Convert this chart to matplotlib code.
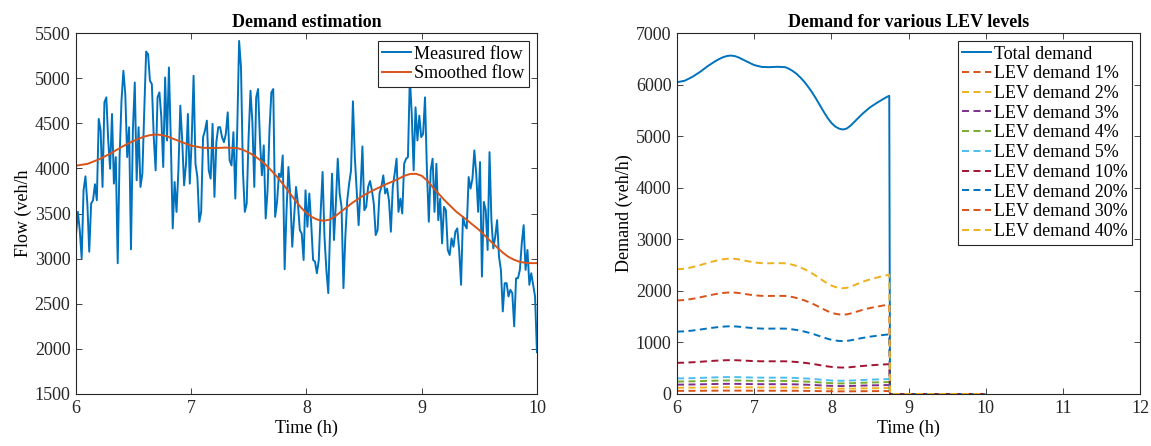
import numpy as np
import matplotlib
matplotlib.use("Agg")
import matplotlib.pyplot as plt

plt.rcParams['font.family'] = ['Liberation Serif', 'DejaVu Serif']
plt.rcParams['font.size'] = 13

# measured flow (veh/h), roughly one sample per minute from 6:00 to 10:00
flow_measured = [
    3261, 3518, 3316, 3004, 3757, 3912, 3610, 3077, 3610, 3647, 3824, 3647, 4548, 4419,
    3794, 4732, 4787, 4309, 3996, 4603, 3831, 4125, 2949, 4125, 4750, 5081, 4824, 4125,
    4456, 3103, 4419, 4952, 3868, 4456, 3794, 3941, 4640, 5294,
    5265, 4971, 4934, 4346, 3978, 4787, 4842, 4566, 4015, 5007, 4309, 5118, 4309, 3335,
    3849, 3518, 3978, 4695, 4309, 3812, 4051, 4603, 3831, 4309, 5026, 4051, 3904, 3408,
    3518, 4346, 4419, 4529, 3978, 3886, 4493, 3684, 4290, 4456, 4456, 4346, 4290,
    4382, 4621, 4088, 4033, 4401, 3665, 4419, 5412, 5118, 3978, 3518, 3610, 4346, 4860,
    4511, 3794, 4787, 4879, 4309, 3923, 4254, 3445, 3757, 4419, 4842, 4879, 3463, 3629,
    3941, 3904, 4143, 2882, 3537, 4015, 3684, 3132, 3463, 3794, 3610, 3316, 3279, 2985,
    3757, 3353, 3721, 3390, 2985, 2967, 2838, 2985, 3518, 3960, 3243, 2875, 2618, 3353,
    3941, 3206, 3610, 4107, 3721, 3574, 2673, 3243, 3647, 3831, 3978, 4743, 4125, 3757,
    3371, 3757, 4243, 3537, 3574, 3794, 3860, 3757, 3610, 3261, 3316, 3721, 3794,
    3923, 3721, 3776, 3647, 3298, 3794, 3941, 4107, 3518, 3665, 3500, 4051, 4107, 4125,
    5007, 4603, 3978, 4676, 4309, 4584, 4346, 4382, 4787, 3978, 3408, 3978, 4107, 3518,
    4051, 3426, 3665, 3169, 3574, 3537, 3096, 3040, 3224, 3132, 3298, 3335, 3096, 2710,
    3463, 3371, 3335, 3904, 3776, 3886, 4199, 3941, 3518, 4070, 2801, 3629, 3537, 3096,
    4180, 3426, 3114, 3243, 3426, 3022, 2875, 2415, 2728, 2728, 2581, 2654, 2618, 2250,
    2783, 2783, 2875, 3169, 3371, 2875, 3096, 2710, 2838, 2710, 2581, 1963,
]
t_measured = np.linspace(6, 10, len(flow_measured))

# smoothed flow
t_smooth = [6.0, 6.1, 6.2, 6.3, 6.4, 6.5, 6.55, 6.6, 6.65, 6.7, 6.75, 6.8, 6.9, 7.0,
            7.1, 7.2, 7.3, 7.4, 7.45, 7.5, 7.55, 7.6, 7.65, 7.7, 7.75, 7.8, 7.85, 7.9,
            7.95, 8.0, 8.05, 8.1, 8.15, 8.2, 8.25, 8.3, 8.4, 8.5, 8.6, 8.7, 8.75, 8.8,
            8.85, 8.9, 8.95, 9.0, 9.05, 9.1, 9.2, 9.3, 9.4, 9.5, 9.6, 9.7, 9.75, 9.8,
            9.85, 9.9, 9.95, 10.0]
flow_smooth = [4030, 4050, 4100, 4165, 4240, 4305, 4332, 4355, 4370, 4375, 4368, 4350,
               4300, 4252, 4228, 4225, 4230, 4225, 4205, 4175, 4138, 4090, 4035, 3970,
               3900, 3820, 3735, 3650, 3570, 3505, 3458, 3430, 3419, 3432, 3470, 3520,
               3620, 3705, 3770, 3830, 3855, 3885, 3918, 3938, 3940, 3918, 3862, 3785,
               3645, 3520, 3420, 3316, 3190, 3070, 3022, 2988, 2965, 2953, 2950, 2950]

# total demand = scaled smoothed flow until the cut-off, zero afterwards
demand_scale = 1.5
t_cutoff = 8.75
t_end = 10.0
lev_levels = [1, 2, 3, 4, 5, 10, 20, 30, 40]

t_smooth = np.array(t_smooth)
flow_smooth = np.array(flow_smooth)
keep = t_smooth <= t_cutoff
t_total = np.concatenate([t_smooth[keep], [t_cutoff + 0.01, t_end]])
total_demand = np.concatenate([demand_scale * flow_smooth[keep], [0, 0]])

mat_blue = '#0072BD'
mat_orange = '#D95319'
mat_colors = ['#D95319', '#EDB120', '#7E2F8E', '#77AC30', '#4DBEEE',
              '#A2142F', '#0072BD', '#D95319', '#EDB120']
axis_col = '#262626'

fig = plt.figure(figsize=(11.51, 4.46), dpi=100)
ax1 = fig.add_axes([0.066, 0.1166, 0.4005, 0.8094])
ax2 = fig.add_axes([0.5882, 0.1166, 0.4023, 0.8094])

ax1.plot(t_measured, flow_measured, color=mat_blue, lw=1.4, label='Measured flow')
ax1.plot(t_smooth, flow_smooth, color=mat_orange, lw=1.4, label='Smoothed flow')
ax1.set_xlim(6, 10)
ax1.set_ylim(1500, 5500)
ax1.set_xticks([6, 7, 8, 9, 10])
ax1.set_yticks(np.arange(1500, 5501, 500))
ax1.set_title('Demand estimation', fontweight='bold', fontsize=13, pad=4)
ax1.set_xlabel('Time (h)', labelpad=2)
ax1.set_ylabel('Flow (veh/h', labelpad=2)

ax2.plot(t_total, total_demand, color=mat_blue, lw=1.4, label='Total demand')
for pct, col in zip(lev_levels, mat_colors):
    ax2.plot(t_total, total_demand * pct / 100, color=col, lw=1.4,
             linestyle=(0, (3.6, 2.3)), label=f'LEV demand {pct}%')
ax2.set_xlim(6, 12)
ax2.set_ylim(0, 7000)
ax2.set_xticks(np.arange(6, 13, 1))
ax2.set_yticks(np.arange(0, 7001, 1000))
ax2.set_title('Demand for various LEV levels', fontweight='bold', fontsize=13, pad=4)
ax2.set_xlabel('Time (h)', labelpad=2)
ax2.set_ylabel('Demand (veh/h)', labelpad=2)

for ax in (ax1, ax2):
    leg = ax.legend(loc='upper right', handlelength=1.6, handletextpad=0.15,
                    borderpad=0.25, labelspacing=0.15, borderaxespad=0.45,
                    fancybox=False, framealpha=1, fontsize=13)
    leg.get_frame().set_edgecolor(axis_col)
    leg.get_frame().set_linewidth(0.8)
    ax.tick_params(direction='in', top=True, right=True, length=4, width=0.6,
                   colors=axis_col, labelsize=13, pad=4)
    for sp in ax.spines.values():
        sp.set_color(axis_col)
        sp.set_linewidth(0.8)

fig.savefig('out.png', dpi=100)
